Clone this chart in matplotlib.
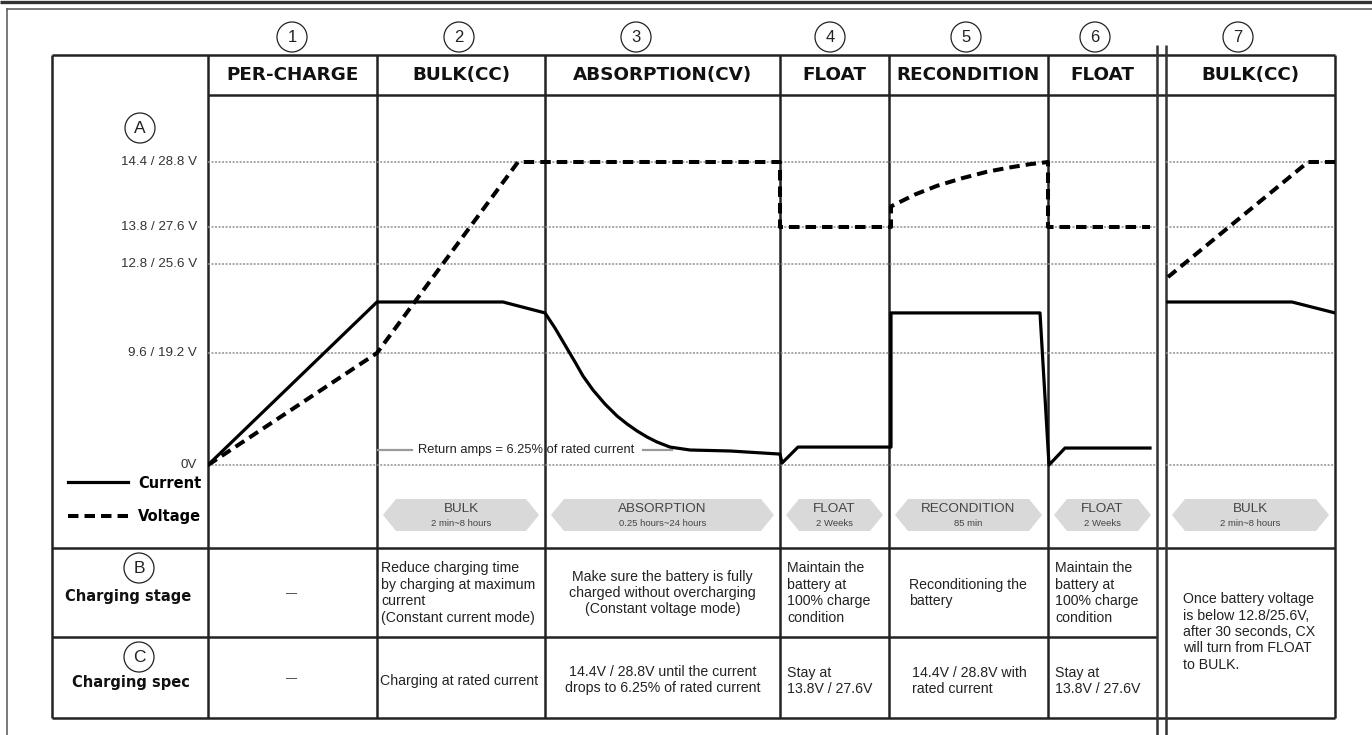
import numpy as np
import matplotlib
matplotlib.use("Agg")
import matplotlib.pyplot as plt
from matplotlib.patches import Polygon, Circle
from matplotlib.transforms import blended_transform_factory

# ---------------- data ----------------
stage_names = ["PER-CHARGE", "BULK(CC)", "ABSORPTION(CV)", "FLOAT", "RECONDITION", "FLOAT", "BULK(CC)"]
stage_numbers = ["1", "2", "3", "4", "5", "6", "7"]
phase_names = ["", "BULK", "ABSORPTION", "FLOAT", "RECONDITION", "FLOAT", "BULK"]
phase_durations = ["", "2 min~8 hours", "0.25 hours~24 hours", "2 Weeks", "85 min", "2 Weeks", "2 min~8 hours"]
stage_purpose = [
    "—",
    "Reduce charging time\nby charging at maximum\ncurrent\n(Constant current mode)",
    "Make sure the battery is fully\ncharged without overcharging\n(Constant voltage mode)",
    "Maintain the\nbattery at\n100% charge\ncondition",
    "Reconditioning the\nbattery",
    "Maintain the\nbattery at\n100% charge\ncondition",
    "Once battery voltage\nis below 12.8/25.6V,\nafter 30 seconds, CX\nwill turn from FLOAT\nto BULK.",
]
stage_spec = [
    "—",
    "Charging at rated current",
    "14.4V / 28.8V until the current\ndrops to 6.25% of rated current",
    "Stay at\n13.8V / 27.6V",
    "14.4V / 28.8V with\nrated current",
    "Stay at\n13.8V / 27.6V",
    "",
]
voltage_levels = [0.0, 9.6, 12.8, 13.8, 14.4]
voltage_labels = ["0V", "9.6 / 19.2 V", "12.8 / 25.6 V", "13.8 / 27.6 V", "14.4 / 28.8 V"]
return_amps_pct = 9.2
return_amps_text = "Return amps = 6.25% of rated current"

# schematic time axis values and voltage (V)
nan = np.nan
volt_t = [208, 377, 518, 780, 780, 889, 891, 891, 915, 937, 962, 987, 1010, 1030, 1048, 1048, 1150,
          nan, 1168, 1308, 1335]
volt_v = [0, 9.6, 14.4, 14.4, 13.8, 13.8, 13.8, 13.99, 14.10, 14.18, 14.25, 14.31, 14.35, 14.38, 14.4, 13.8, 13.8,
          nan, 12.33, 14.4, 14.4]
# current in % of rated current
curr_t = [208, 377, 503, 545, 555, 565, 575, 583, 593, 605, 617, 627, 637, 647, 657, 670, 690, 730, 780,
          782, 798, 891, 891, 1040, 1049, 1065, 1150, nan, 1168, 1292, 1335]
curr_pct = [0, 100, 100, 93.3, 84.0, 73.6, 63.2, 54.6, 46.0, 37.4, 30.1, 25.2, 20.9, 17.2, 14.1, 11.0, 9.2, 8.6, 6.7,
            1.2, 11.0, 11.0, 93.3, 93.3, 0.0, 10.4, 10.4, nan, 100, 100, 93.3]

# ---------------- layout ----------------
W, H = 1372, 735
fig = plt.figure(figsize=(W / 100, H / 100), dpi=100)
ax = fig.add_axes([0, 0, 1, 1])
ax.set_xlim(0, W)
ax.set_ylim(H, 0)
ax.axis("off")

BODY = "Liberation Sans"
HEAVY = "DejaVu Sans"
LC = "#222222"
LW = 1.8

col_edges = [208, 377, 545, 780, 889, 1048, 1157]
col7 = (1166, 1335)
cols = [(col_edges[i], col_edges[i + 1]) for i in range(6)] + [col7]
T_TOP, T_HEAD, T_CHART, T_STAGE, T_BOT, T_LEFT = 55, 95, 548, 637, 718, 52

# outer frame of page
ax.plot([0, W], [1.5, 1.5], color="#333333", lw=2.4, solid_capstyle="butt")
ax.plot([7, W], [9, 9], color="#555555", lw=1.1)
ax.plot([7, 7], [9, H], color="#555555", lw=1.1)

# table lines
ax.hlines(T_TOP, T_LEFT, col7[1], color=LC, lw=LW)
ax.hlines(T_HEAD, 208, col7[1], color=LC, lw=LW)
ax.hlines(T_CHART, T_LEFT, col7[1], color=LC, lw=LW)
ax.hlines(T_STAGE, T_LEFT, 1157, color=LC, lw=LW)
ax.hlines(T_BOT, T_LEFT, col7[1], color=LC, lw=LW)
for x in [T_LEFT] + col_edges[:-1] + [col7[1]]:
    ax.vlines(x, T_TOP, T_BOT, color=LC, lw=LW)
for x in [1157, 1166]:
    ax.vlines(x, 45, H, color="#333333", lw=LW)

# circled stage numbers
num_x = [292, 459, 636, 830, 966, 1095, 1238]
for cx, s in zip(num_x, stage_numbers):
    ax.add_patch(Circle((cx, 37), 15, fill=False, lw=0.9, ec="#222222"))
    ax.text(cx, 37.5, s, ha="center", va="center", family=BODY, size=12, color="#222222")

# circled row letters
for (cx, cy), s in zip([(140, 128), (139, 568), (139, 657)], ["A", "B", "C"]):
    ax.add_patch(Circle((cx, cy), 15, fill=False, lw=0.9, ec="#222222"))
    ax.text(cx, cy + 0.5, s, ha="center", va="center", family=BODY, size=12.5, color="#222222")

ax.text(128, 597, "Charging stage", ha="center", va="center", family=HEAVY, weight="bold", size=10.5, color="#111111")
ax.text(131, 682, "Charging spec", ha="center", va="center", family=HEAVY, weight="bold", size=10.5, color="#111111")

# headers
for (x0, x1), name in zip(cols, stage_names):
    ax.text((x0 + x1) / 2, 75, name, ha="center", va="center", family=HEAVY, weight="bold",
            size=13.2, color="#111111")

# phase chevrons
for i in range(1, 7):
    x0, x1 = cols[i]
    a, b = x0 + 6, x1 - 6
    yt, yb, tip = 499, 531, 13
    ym = (yt + yb) / 2
    poly = Polygon([(a, ym), (a + tip, yt), (b - tip, yt), (b, ym), (b - tip, yb), (a + tip, yb)],
                   closed=True, fc="#d9d9d9", ec="none", zorder=1)
    ax.add_patch(poly)
    cx = (x0 + x1) / 2
    ax.text(cx, 509, phase_names[i], ha="center", va="center", family=BODY, size=9.7, color="#444444", zorder=2)
    ax.text(cx, 523, phase_durations[i], ha="center", va="center", family=BODY, size=6.8, color="#444444", zorder=2)

# table body text
FS = 10.2
LS = 1.22
TC = "#222222"
for i in range(7):
    x0, x1 = cols[i]
    cx = (x0 + x1) / 2
    if i == 0:
        ax.text(292, 593, stage_purpose[0], ha="center", va="center", family=BODY, size=8, color=TC)
        ax.text(292, 678, stage_spec[0], ha="center", va="center", family=BODY, size=8, color=TC)
    elif i == 2:
        ax.text(cx, 593, stage_purpose[i], ha="center", va="center", family=BODY, size=FS, color=TC, linespacing=LS)
        ax.text(cx, 680, stage_spec[i], ha="center", va="center", family=BODY, size=FS, color=TC, linespacing=LS)
    elif i == 6:
        ax.text(x0 + 17, 632, stage_purpose[i], ha="left", va="center", family=BODY, size=FS, color=TC, linespacing=LS)
    else:
        lx = {1: 381, 3: 787, 4: 909, 5: 1055}[i]
        sx = {1: 380, 3: 787, 4: 912, 5: 1055}[i]
        ax.text(lx, 593, stage_purpose[i], ha="left", va="center", family=BODY, size=FS, color=TC, linespacing=LS)
        ax.text(sx, 681, stage_spec[i], ha="left", va="center", family=BODY, size=FS, color=TC, linespacing=LS)

# ---------------- chart ----------------
CH_L, CH_R, CH_T, CH_B = 208, 1335, 95, 548
cax = fig.add_axes([CH_L / W, 1 - CH_B / H, (CH_R - CH_L) / W, (CH_B - CH_T) / H])
cax.patch.set_alpha(0)
knot_v = np.array([-5.0, 0.0, 9.6, 12.8, 13.8, 14.4, 16.0])
knot_p = -np.array([548, 465, 353, 264, 227, 162, 95], dtype=float)
cax.set_yscale("function", functions=(lambda v: np.interp(v, knot_v, knot_p),
                                      lambda p: np.interp(p, knot_p, knot_v)))
cax.set_xlim(CH_L, CH_R)
cax.set_ylim(-5, 16)
cax.axis("off")

cax2 = cax.twinx()
cax2.set_ylim(-50.92, 226.99)
cax2.axis("off")

for v in voltage_levels:
    for a, b in [(208, 1157), (1166, 1335)]:
        cax.hlines(v, a, b, color="#8f8f8f", lw=1.1, linestyles=(0, (1.3, 1.0)), zorder=1)

trans = blended_transform_factory(ax.transData, cax.transData)
for v, lab in zip(voltage_levels, voltage_labels):
    ax.text(197, v, lab, transform=trans, ha="right", va="center", family=BODY, size=9.6, color="#333333")

hv, = cax.plot(volt_t, volt_v, color="black", lw=2.9, ls=(0, (2.6, 1.5)), dash_capstyle="butt", zorder=5)
hc, = cax2.plot(curr_t, curr_pct, color="black", lw=2.3, zorder=5)

cax2.plot([378, 412], [return_amps_pct, return_amps_pct], color="#9a9a9a", lw=1.6, zorder=3)
cax2.plot([643, 672], [return_amps_pct, return_amps_pct], color="#9a9a9a", lw=1.6, zorder=3)
cax2.text(418, return_amps_pct, return_amps_text, ha="left", va="center", family=BODY, size=9.3, color="#222222")

fig.legend([hc, hv], ["Current", "Voltage"], loc="center left", bbox_to_anchor=(68 / W, 1 - 500 / H),
           frameon=False, handlelength=4.1, handletextpad=0.7, labelspacing=1.3, borderpad=0, borderaxespad=0,
           prop=dict(family=HEAVY, weight="bold", size=10.5))

fig.savefig("out.png", dpi=100)
